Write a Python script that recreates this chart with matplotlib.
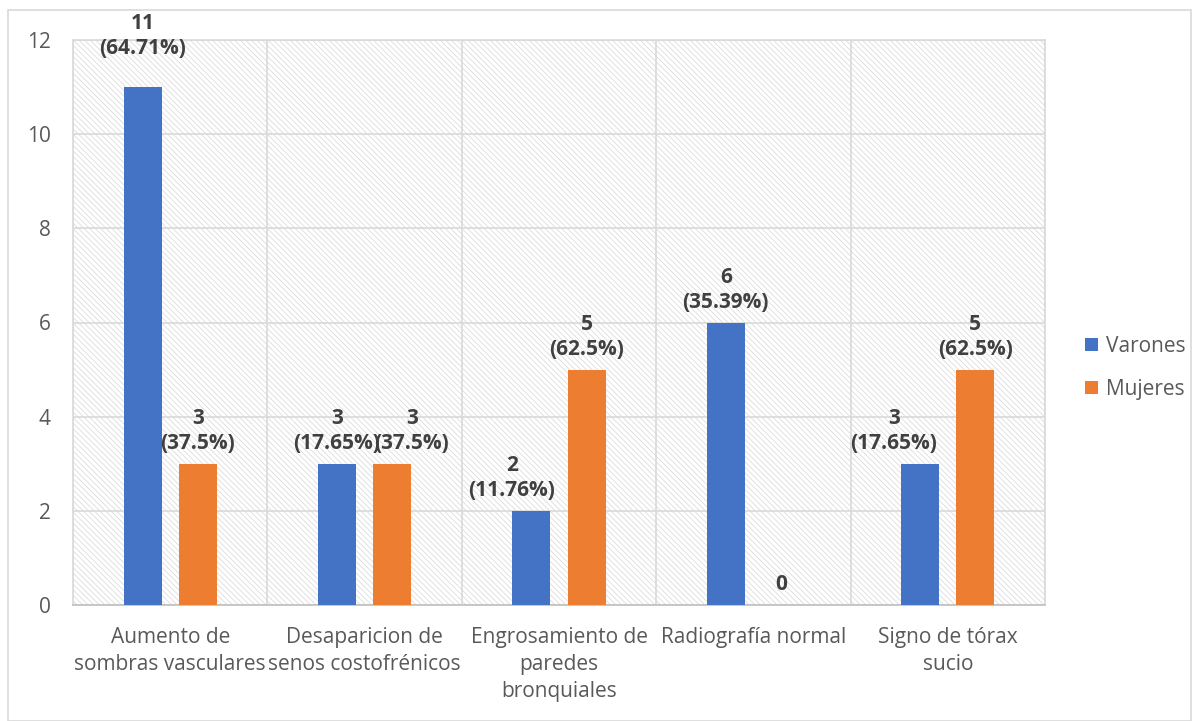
import matplotlib
matplotlib.use("Agg")
import matplotlib.pyplot as plt
import numpy as np
from matplotlib.patches import Rectangle

categories = ["Aumento de\nsombras vasculares", "Desaparicion de\nsenos costofrénicos",
              "Engrosamiento de\nparedes\nbronquiales", "Radiografía normal",
              "Signo de tórax\nsucio"]
varones = [11, 3, 2, 6, 3]
mujeres = [3, 3, 5, 0, 5]
varones_lbl = ["11\n(64.71%)", "3\n(17.65%)", "2\n(11.76%)", "6\n(35.39%)", "3\n(17.65%)"]
mujeres_lbl = ["3\n(37.5%)", "3\n(37.5%)", "5\n(62.5%)", "0", "5\n(62.5%)"]
yticks = [0, 2, 4, 6, 8, 10, 12]

plt.rcParams['font.family'] = ['Open Sans', 'DejaVu Sans']
plt.rcParams['hatch.linewidth'] = 0.5
BLUE = "#4472C4"
ORANGE = "#ED7D31"
TXT = "#595959"
LBL = "#404040"
GRID = "#D9D9D9"
FS = 15

fig = plt.figure(figsize=(11.99, 7.21), dpi=100)
fig.patches.append(Rectangle((8/1199, 0.0), (1191-8)/1199, 1 - 10/721, transform=fig.transFigure,
                             fill=False, edgecolor=GRID, linewidth=1.2, zorder=0))

ax = fig.add_axes([73/1199, 1 - 605/721, (1045-73)/1199, (605-40)/721])
ax.set_facecolor("white")
ax.add_patch(Rectangle((0, 0), 1, 1, transform=ax.transAxes, facecolor="white",
                       edgecolor="#D6D6D6", hatch="\\\\\\\\\\\\", linewidth=0, zorder=0))

n = len(categories)
x = np.arange(n)
w = 0.196
off = 0.142
b1 = ax.bar(x - off, varones, w, color=BLUE, zorder=3, label="Varones")
b2 = ax.bar(x + off, mujeres, w, color=ORANGE, zorder=3, label="Mujeres")

ax.set_xlim(-0.5, n - 0.5)
ax.set_ylim(0, 12)
ax.set_yticks(yticks)
ax.set_yticklabels([str(t) for t in yticks], fontsize=FS, color=TXT)
ax.set_xticks(x)
ax.set_xticklabels(categories, fontsize=FS, color=TXT, linespacing=1.38)
ax.set_xticks(np.arange(n + 1) - 0.5, minor=True)
ax.tick_params(axis='both', which='both', length=0)
ax.tick_params(axis='y', pad=16)
ax.tick_params(axis='x', pad=16)
ax.grid(axis='y', which='major', color=GRID, linewidth=1.2, zorder=1)
ax.grid(axis='x', which='minor', color=GRID, linewidth=1.2, zorder=1)
ax.grid(axis='x', which='major', visible=False)
for s in ['top', 'right', 'left']:
    ax.spines[s].set_color(GRID)
    ax.spines[s].set_linewidth(1.2)
ax.spines['bottom'].set_color("#BFBFBF")
ax.spines['bottom'].set_linewidth(1.2)

def label(bars, labels, dx, dy):
    for rect, lab, d, e in zip(bars, labels, dx, dy):
        h = rect.get_height()
        cx = rect.get_x() + rect.get_width() / 2
        ax.annotate(lab, (cx, h), xytext=(d, e), textcoords="offset points",
                    ha="center", va="bottom", fontsize=15, fontweight="bold",
                    color=LBL, linespacing=1.25, zorder=5, annotation_clip=False)

label(b1, varones_lbl, [0, 0, -14, 0, -19], [20, 7, 7, 7, 7])
label(b2, mujeres_lbl, [0, 14, 0, 0, 0], [7, 7, 7, 7, 7])

leg = ax.legend(loc="center left", bbox_to_anchor=(1.022, 0.42), frameon=False,
                fontsize=15, handlelength=0.6, handleheight=0.6, labelspacing=1.05,
                handletextpad=0.4)
for t in leg.get_texts():
    t.set_color(TXT)

fig.savefig("out.png", dpi=100)
